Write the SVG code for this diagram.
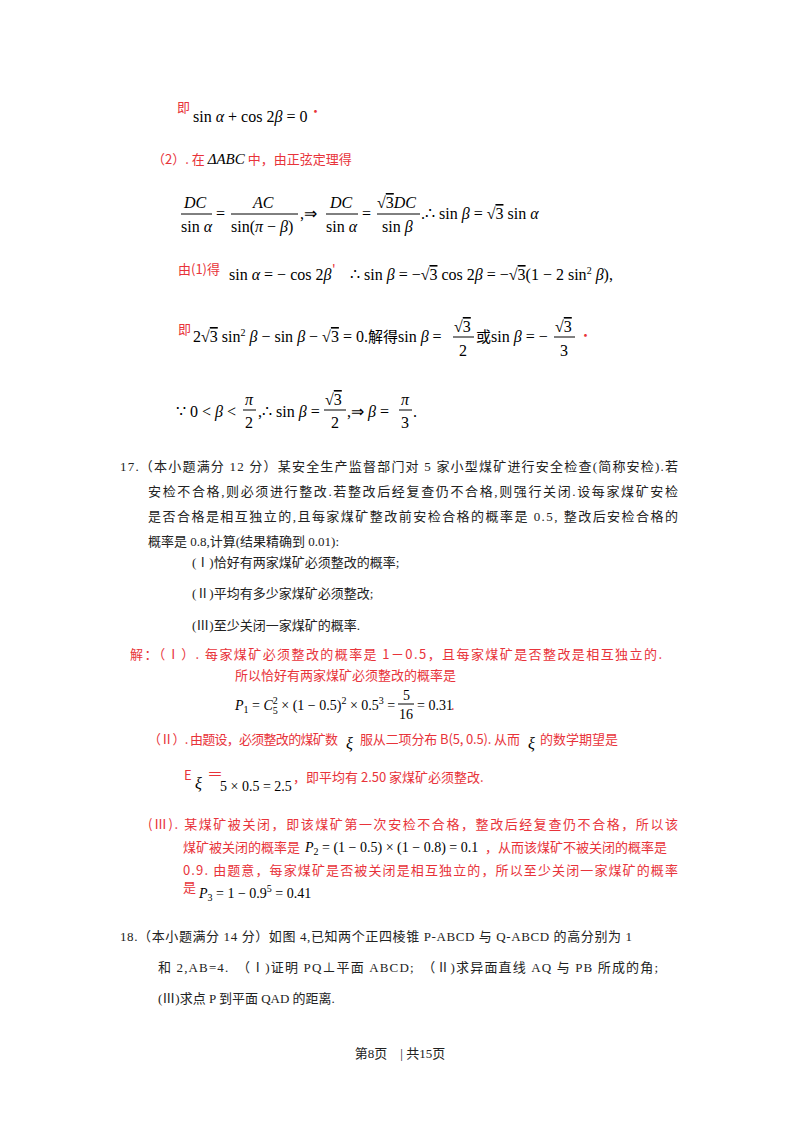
<svg xmlns="http://www.w3.org/2000/svg" width="800" height="1132" viewBox="0 0 800 1132">
<style>
.m{font-family:"Liberation Serif",serif;font-size:16px;fill:#000}
.i{font-style:italic}
.r{font-family:"Noto Sans CJK SC","Liberation Serif",sans-serif;font-size:13px;fill:#e8333a}
.c{font-family:"Liberation Serif","Noto Sans CJK SC",serif;font-size:13px;fill:#222}
.rm{font-family:"Liberation Serif",serif;font-size:14px;fill:#000}
line{stroke:#000;stroke-width:1}
</style>
<rect width="800" height="1132" fill="#fff"/>
<text class="r" x="177" y="112">即</text>
<text class="m" x="193" y="122">sin <tspan class="i">α</tspan> + cos 2<tspan class="i">β</tspan> = 0</text>
<text class="r" x="309" y="116">·</text>
<text class="r" x="152" y="164">（2）. 在 <tspan class="m i" style="font-size:15px">ΔABC</tspan> 中，由正弦定理得</text>
<g id="eq1">
<text class="m i" x="184" y="208">DC</text>
<line x1="181" y1="214" x2="212" y2="214"/>
<text class="m" x="181" y="232">sin <tspan class="i">α</tspan></text>
<text class="m" x="216" y="219">=</text>
<text class="m i" x="253" y="208">AC</text>
<line x1="231" y1="214" x2="298" y2="214"/>
<text class="m" x="231" y="232">sin(<tspan class="i">π</tspan> − <tspan class="i">β</tspan>)</text>
<text class="m" x="300" y="219">,⇒</text>
<text class="m i" x="330" y="208">DC</text>
<line x1="326" y1="214" x2="358" y2="214"/>
<text class="m" x="326" y="232">sin <tspan class="i">α</tspan></text>
<text class="m" x="362" y="219">=</text>
<text class="m" x="377" y="208">√<tspan text-decoration="overline">3</tspan><tspan class="i">DC</tspan></text>
<line x1="377" y1="214" x2="420" y2="214"/>
<text class="m" x="382" y="232">sin <tspan class="i">β</tspan></text>
<text class="m" x="421" y="219">.∴ sin <tspan class="i">β</tspan> = √<tspan text-decoration="overline">3</tspan> sin <tspan class="i">α</tspan></text>
</g>
<text class="r" x="178" y="274">由(1)得</text>
<text class="m" x="229" y="280">sin <tspan class="i">α</tspan> = − cos 2<tspan class="i">β</tspan></text>
<text class="r" x="332" y="274">'</text>
<text class="m" x="350" y="280">∴ sin <tspan class="i">β</tspan> = −√<tspan text-decoration="overline">3</tspan> cos 2<tspan class="i">β</tspan> = −√<tspan text-decoration="overline">3</tspan>(1 − 2 sin<tspan dy="-6" font-size="10">2</tspan><tspan dy="6"> </tspan><tspan class="i">β</tspan>),</text>
<text class="r" x="178" y="334">即</text>
<text class="m" x="193" y="342">2√<tspan text-decoration="overline">3</tspan> sin<tspan dy="-6" font-size="10">2</tspan><tspan dy="6"> </tspan><tspan class="i">β</tspan> − sin <tspan class="i">β</tspan> − √<tspan text-decoration="overline">3</tspan> = 0.<tspan style="font-family:'Noto Sans CJK SC',sans-serif;font-size:15px">解得</tspan>sin <tspan class="i">β</tspan> =</text>
<text class="m" x="454" y="332">√<tspan text-decoration="overline">3</tspan></text>
<line x1="453" y1="337" x2="474" y2="337"/>
<text class="m" x="459" y="356">2</text>
<text class="m" x="476" y="342"><tspan style="font-family:'Noto Sans CJK SC',sans-serif;font-size:15px">或</tspan>sin <tspan class="i">β</tspan> = −</text>
<text class="m" x="555" y="332">√<tspan text-decoration="overline">3</tspan></text>
<line x1="554" y1="337" x2="575" y2="337"/>
<text class="m" x="560" y="356">3</text>
<text class="r" x="579" y="340">·</text>
<text class="m" x="176" y="417">∵ 0 &lt; <tspan class="i">β</tspan> &lt;</text>
<text class="m i" x="245" y="405">π</text>
<line x1="243" y1="410" x2="256" y2="410"/>
<text class="m" x="245" y="428">2</text>
<text class="m" x="258" y="417">,∴ sin <tspan class="i">β</tspan> =</text>
<text class="m" x="325" y="405">√<tspan text-decoration="overline">3</tspan></text>
<line x1="324" y1="410" x2="346" y2="410"/>
<text class="m" x="331" y="428">2</text>
<text class="m" x="347" y="417">,⇒ <tspan class="i">β</tspan> =</text>
<text class="m i" x="401" y="405">π</text>
<line x1="399" y1="410" x2="412" y2="410"/>
<text class="m" x="401" y="428">3</text>
<text class="m" x="413" y="417">.</text>
<text class="c" x="120" y="471" textLength="558">17.（本小题满分 12 分）某安全生产监督部门对 5 家小型煤矿进行安全检查(简称安检).若</text>
<text class="c" x="148" y="496" textLength="530">安检不合格,则必须进行整改.若整改后经复查仍不合格,则强行关闭.设每家煤矿安检</text>
<text class="c" x="148" y="521" textLength="530">是否合格是相互独立的,且每家煤矿整改前安检合格的概率是 0.5, 整改后安检合格的</text>
<text class="c" x="148" y="546">概率是 0.8,计算(结果精确到 0.01):</text>
<text class="c" x="192" y="567">(Ⅰ)恰好有两家煤矿必须整改的概率;</text>
<text class="c" x="192" y="598">(Ⅱ)平均有多少家煤矿必须整改;</text>
<text class="c" x="192" y="630">(Ⅲ)至少关闭一家煤矿的概率.</text>
<text class="r" x="130" y="659" textLength="532">解：（Ⅰ）. 每家煤矿必须整改的概率是 1－0.5，且每家煤矿是否整改是相互独立的.</text>
<text class="r" x="235" y="680">所以恰好有两家煤矿必须整改的概率是</text>
<text class="rm" x="235" y="710"><tspan class="i">P</tspan><tspan dy="3" font-size="10">1</tspan><tspan dy="-3"> = </tspan><tspan class="i">C</tspan><tspan dy="4" font-size="10">5</tspan><tspan dy="-10" dx="-5" font-size="10">2</tspan><tspan dy="6"> × (1 − 0.5)</tspan><tspan dy="-6" font-size="10">2</tspan><tspan dy="6"> × 0.5</tspan><tspan dy="-6" font-size="10">3</tspan><tspan dy="6"> =</tspan></text>
<text class="rm" x="403" y="700">5</text>
<line x1="398" y1="704" x2="414" y2="704"/>
<text class="rm" x="399" y="719">16</text>
<text class="rm" x="417" y="710">= 0.31</text>
<text class="r" x="451" y="710">.</text>
<text class="r" x="148" y="744" textLength="190">（Ⅱ）. 由题设，必须整改的煤矿数</text>
<text class="m i" x="346" y="749">ξ</text>
<text class="r" x="360" y="744" textLength="160">服从二项分布 B(5, 0.5). 从而</text>
<text class="m i" x="528" y="749">ξ</text>
<text class="r" x="540" y="744">的数学期望是</text>
<text class="r" x="184" y="780">E</text>
<text class="m i" x="195" y="789">ξ</text>
<text class="r" x="207" y="780" style="font-size:16px">＝</text>
<text class="rm" x="220" y="791">5 × 0.5 = 2.5</text>
<text class="r" x="293" y="782">，即平均有 2.50 家煤矿必须整改.</text>
<text class="r" x="148" y="829" textLength="530">(Ⅲ). 某煤矿被关闭，即该煤矿第一次安检不合格，整改后经复查仍不合格，所以该</text>
<text class="r" x="183" y="852">煤矿被关闭的概率是</text>
<text class="rm" x="305" y="852"><tspan class="i">P</tspan><tspan dy="3" font-size="10">2</tspan><tspan dy="-3"> = (1 − 0.5) × (1 − 0.8) = 0.1</tspan></text>
<text class="r" x="485" y="852">，从而该煤矿不被关闭的概率是</text>
<text class="r" x="183" y="875" textLength="495">0.9. 由题意，每家煤矿是否被关闭是相互独立的，所以至少关闭一家煤矿的概率</text>
<text class="r" x="183" y="892">是</text>
<text class="rm" x="199" y="898"><tspan class="i">P</tspan><tspan dy="3" font-size="10">3</tspan><tspan dy="-3"> = 1 − 0.9</tspan><tspan dy="-6" font-size="10">5</tspan><tspan dy="6"> = 0.41</tspan></text>
<text class="c" x="120" y="941" textLength="512">18.（本小题满分 14 分）如图 4,已知两个正四棱锥 P-ABCD 与 Q-ABCD 的高分别为 1</text>
<text class="c" x="158" y="972" textLength="500">和 2,AB=4.　（Ⅰ)证明 PQ⊥平面 ABCD;　（Ⅱ)求异面直线 AQ 与 PB 所成的角;</text>
<text class="c" x="158" y="1003">(Ⅲ)求点 P 到平面 QAD 的距离.</text>
<text class="c" x="400" y="1058" text-anchor="middle">第8页　| 共15页</text>
</svg>
